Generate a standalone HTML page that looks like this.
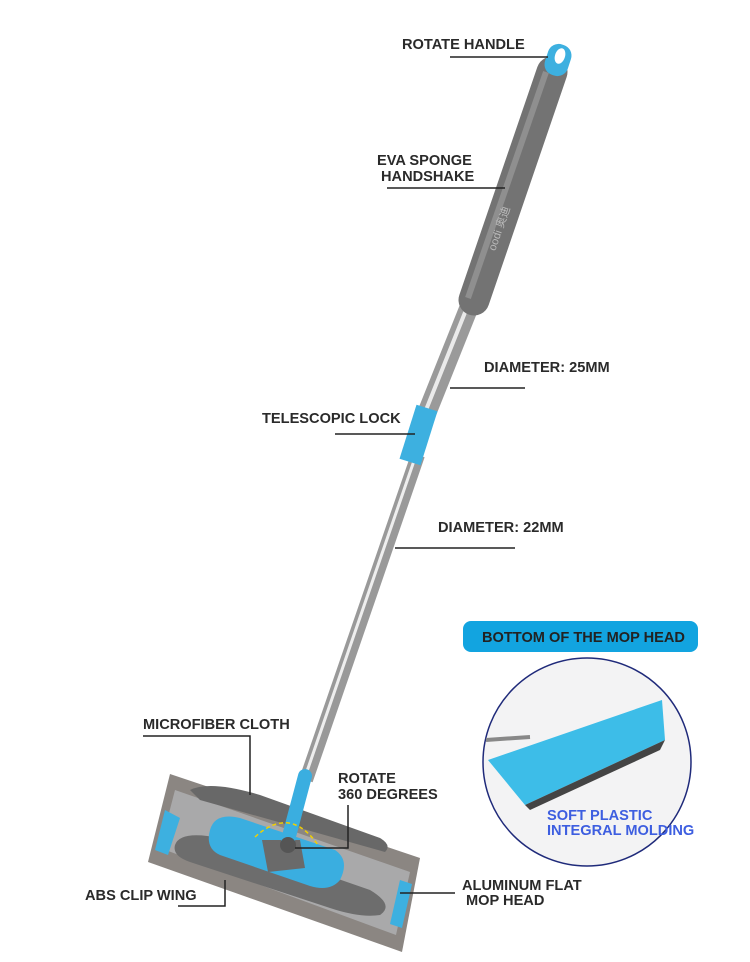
<!DOCTYPE html>
<html><head><meta charset="utf-8"><style>
body{margin:0;background:#fff;}
svg{display:block}
text{font-family:"Liberation Sans",Arial,sans-serif;font-weight:bold;font-size:14.6px;fill:#2a2a2a}
</style></head><body>
<svg width="750" height="962" viewBox="0 0 750 962" xmlns="http://www.w3.org/2000/svg">
<defs>
<linearGradient id="steel" x1="0" y1="0" x2="1" y2="0">
<stop offset="0" stop-color="#6a6a6a"/><stop offset=".35" stop-color="#e8e8e8"/><stop offset=".6" stop-color="#9a9a9a"/><stop offset="1" stop-color="#444"/>
</linearGradient>
</defs>
<!-- lower tube -->
<line x1="418" y1="455" x2="306" y2="780" stroke="#999" stroke-width="14"/>
<line x1="416" y1="455" x2="304" y2="780" stroke="#eee" stroke-width="3"/>
<!-- upper tube -->
<line x1="474" y1="295" x2="420" y2="430" stroke="#9a9a9a" stroke-width="19"/>
<line x1="472" y1="295" x2="418" y2="430" stroke="#eaeaea" stroke-width="4"/>
<!-- lock -->
<line x1="427" y1="408" x2="410" y2="462" stroke="#3db0e0" stroke-width="22"/>
<!-- grip -->
<line x1="552" y1="72" x2="474" y2="300" stroke="#737373" stroke-width="31" stroke-linecap="round"/>
<line x1="546" y1="72" x2="468" y2="298" stroke="#8f8f8f" stroke-width="6"/>
<text x="487" y="250" transform="rotate(-71 492 245)" style="font-size:11px;fill:#bbb;font-weight:normal">oodi 奥迪</text>
<!-- top loop -->
<rect x="546" y="44" width="24" height="32" rx="11" fill="#3db0e0" transform="rotate(18 558 60)"/>
<ellipse cx="560" cy="56" rx="5" ry="8" fill="#fff" transform="rotate(18 560 56)"/>
<!-- mop head cloth -->
<polygon points="170,774 420,858 402,952 148,862" fill="#8b8682"/>
<polygon points="175,790 410,872 396,935 160,848" fill="#a9a9aa"/>
<polygon points="165,810 180,818 168,855 155,850" fill="#3db0e0"/>
<polygon points="400,880 412,884 402,928 390,924" fill="#3db0e0"/>
<path d="M190,790 Q210,780 260,795 L380,838 Q392,845 385,852 L200,800 Z" fill="#686868"/>
<path d="M175,845 Q180,830 220,838 L370,890 Q395,905 380,915 Q360,918 330,908 L190,862 Q172,856 175,845Z" fill="#6d6d6d"/>
<path d="M210,830 Q215,812 240,818 L335,850 Q350,860 340,880 Q330,892 310,886 L220,855 Q205,848 210,830Z" fill="#3aaee0"/>
<path d="M262,840 L300,840 L305,868 L268,872 Z" fill="#6a6a6a"/>
<line x1="305" y1="776" x2="288" y2="840" stroke="#3aaee0" stroke-width="14" stroke-linecap="round"/>
<circle cx="288" cy="845" r="8" fill="#555"/>
<path d="M255,837 Q290,805 318,845" stroke="#f0d000" stroke-width="1.5" fill="none" stroke-dasharray="4 3"/>
<!-- leader lines -->
<g stroke="#222" stroke-width="1.5" fill="none">
<line x1="450" y1="57" x2="548" y2="57"/>
<line x1="387" y1="188" x2="505" y2="188"/>
<line x1="450" y1="388" x2="525" y2="388"/>
<line x1="335" y1="434" x2="415" y2="434"/>
<line x1="395" y1="548" x2="515" y2="548"/>
<polyline points="143,736 250,736 250,795"/>
<polyline points="348,805 348,848 295,848"/>
<polyline points="178,906 225,906 225,880"/>
<line x1="400" y1="893" x2="455" y2="893"/>
</g>
<text x="402" y="49">ROTATE HANDLE</text>
<text x="377" y="165">EVA SPONGE</text>
<text x="381" y="181">HANDSHAKE</text>
<text x="484" y="372">DIAMETER: 25MM</text>
<text x="262" y="423">TELESCOPIC LOCK</text>
<text x="438" y="532">DIAMETER: 22MM</text>
<text x="143" y="729">MICROFIBER CLOTH</text>
<text x="338" y="783">ROTATE</text>
<text x="338" y="799">360 DEGREES</text>
<text x="85" y="900">ABS CLIP WING</text>
<text x="462" y="890">ALUMINUM FLAT</text>
<text x="466" y="905">MOP HEAD</text>
<!-- inset -->
<rect x="463" y="621" width="235" height="31" rx="8" fill="#12a4e0"/>
<text x="482" y="642" style="font-size:14.6px;fill:#222">BOTTOM OF THE MOP HEAD</text>
<circle cx="587" cy="762" r="104" fill="#f3f3f4" stroke="#1f2a7a" stroke-width="1.5"/>
<line x1="486" y1="740" x2="530" y2="737" stroke="#888" stroke-width="4"/>
<polygon points="488,760 662,700 665,740 525,805" fill="#3dbde8"/>
<polygon points="525,805 665,740 660,750 530,810" fill="#444"/>
<text x="547" y="820" style="font-size:14.6px;fill:#3d5ee0">SOFT PLASTIC</text>
<text x="547" y="835" style="font-size:14.6px;fill:#3d5ee0">INTEGRAL MOLDING</text>
</svg>
</body></html>
